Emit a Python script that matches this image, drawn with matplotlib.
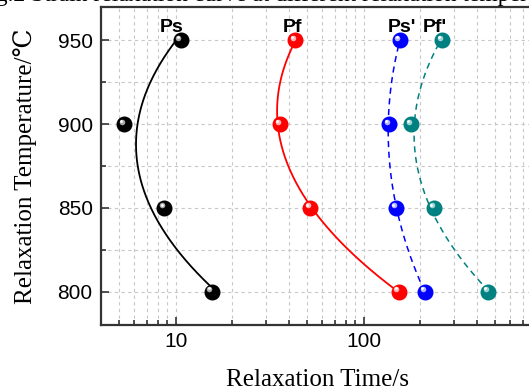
import numpy as np
import matplotlib
matplotlib.use('Agg')
from matplotlib import pyplot as plt
from matplotlib import transforms
from matplotlib.ticker import LogLocator, MultipleLocator, NullFormatter, FixedLocator

# relaxation temperature (degC) and relaxation time (s)
temps = [800, 850, 900, 950]
ps = [15.5, 8.7, 5.3, 10.6]
pf = [153, 51.6, 35.7, 43.0]
ps2 = [211, 148, 136, 155]
pf2 = [457, 236, 178, 260]

names = ['Ps', 'Pf', "Ps'", "Pf'"]
colors = ['#000000', '#ff0000', '#0000ff', '#008080']
highlights = ['#bbbbbb', '#ffc8c8', '#c8c8ff', '#b0dede']
styles = ['-', '-', '--', '--']
label_dx = [-9, -2, 2, -7]   # label offset from the 950 point, pixels

plt.rcParams['font.family'] = ['Liberation Sans', 'DejaVu Sans']

fig = plt.figure(figsize=(5.29, 3.92), dpi=100)
ax = fig.add_axes([101 / 529, 67 / 392, 0.8178, 318 / 392])
ax.set_xscale('log')
ax.set_xlim(4, 800)
ax.set_ylim(780, 970)

T = np.array(temps, dtype=float)
tt = np.linspace(800, 950, 200)
series = [ps, pf, ps2, pf2]
for vals, name, c, hc, ls, dx in zip(series, names, colors, highlights, styles, label_dx):
    v = np.log10(vals)
    coef = np.polyfit(T, v, 2)
    ax.plot(10 ** np.polyval(coef, tt), tt, ls=ls, color=c,
            lw=1.3 if ls == '-' else 1.1, dashes=(4, 3) if ls == '--' else (None, None),
            zorder=3)
    ax.plot(vals, temps, 'o', ms=10.5, color=c, mec=c, zorder=4)
    hl = transforms.offset_copy(ax.transData, fig=fig, x=-1.6, y=1.8, units='points')
    ax.plot(vals, temps, 'o', ms=4.0, color=hc, mec='none', alpha=0.9, zorder=5, transform=hl)
    hl2 = transforms.offset_copy(ax.transData, fig=fig, x=-2.0, y=2.2, units='points')
    ax.plot(vals, temps, 'o', ms=2.0, color='white', mec='none', zorder=6, transform=hl2)
    ax.annotate(name, xy=(vals[-1], temps[-1]), xytext=(dx * 0.72, 3),
                textcoords='offset points', ha='center', va='bottom',
                fontsize=14, fontweight='bold', color='black', zorder=7)

ax.yaxis.set_major_locator(FixedLocator([800, 850, 900, 950]))
ax.yaxis.set_minor_locator(MultipleLocator(25))
ax.xaxis.set_major_locator(LogLocator(base=10))
ax.xaxis.set_minor_locator(LogLocator(base=10, subs=np.arange(2, 10)))
ax.xaxis.set_minor_formatter(NullFormatter())
ax.set_xticks([10, 100])
ax.set_xticklabels(['10', '100'])

ax.grid(True, which='both', axis='both', color='#c8c8c8', ls=(0, (3, 3)), lw=0.8)
ax.set_axisbelow(True)

ax.tick_params(which='both', direction='in', labelsize=15, colors='#333333',
               labelcolor='black', width=1.2)
ax.tick_params(which='major', length=6)
ax.tick_params(which='minor', length=3.5)
ax.tick_params(axis='x', pad=5)
ax.tick_params(axis='y', pad=6)
for s in ax.spines.values():
    s.set_color('#333333')
    s.set_linewidth(1.6)

ax.set_xlabel('Relaxation Time/s', family=['Liberation Serif', 'DejaVu Serif'],
              fontsize=18, labelpad=13)
ax.set_ylabel('Relaxation Temperature/\u2103', family=['Liberation Serif', 'DejaVu Serif'],
              fontsize=18, labelpad=15)

fig.text(0.52, 391.3 / 392, 'Fig.2 Strain relaxation curve at different relaxation temperature',
         family=['Liberation Serif', 'DejaVu Serif'], fontsize=17, ha='center', va='baseline')

fig.savefig('out.png', dpi=100)
